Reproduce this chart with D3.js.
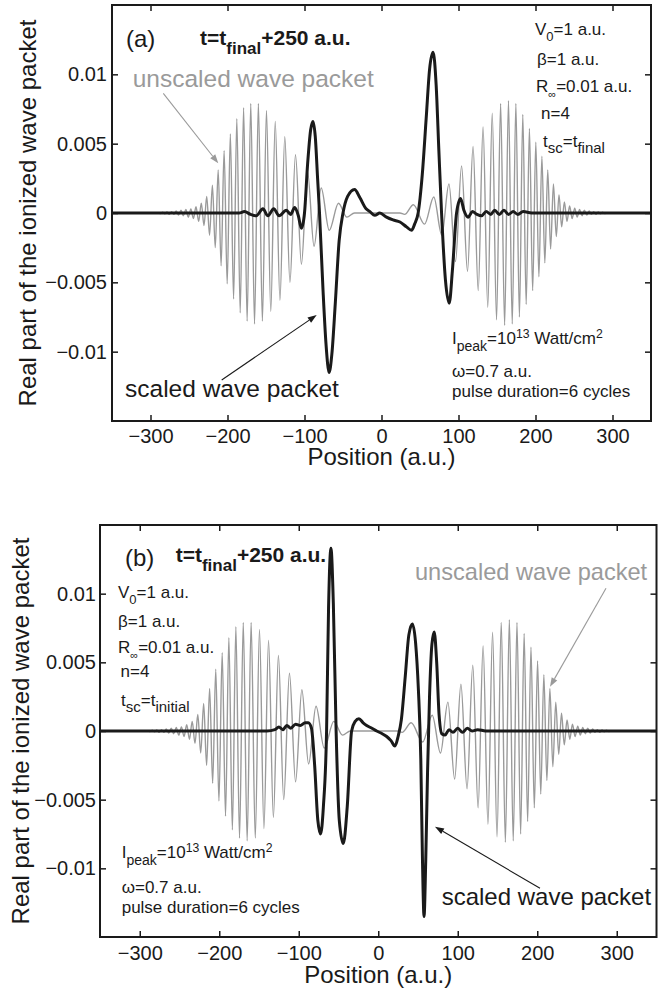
<!DOCTYPE html>
<html><head><meta charset="utf-8">
<script src="https://cdn.jsdelivr.net/npm/d3@7"></script>
<style>
html,body{margin:0;padding:0;background:#fff;}
svg{display:block;font-family:"Liberation Sans",Arial,Helvetica,sans-serif;}
</style></head>
<body>
<svg id="chart" width="668" height="988"></svg>
<script>
// ---------- data ----------
const xTicks = [-300, -200, -100, 0, 100, 200, 300];
const xTickLabels = ["\u2212300", "\u2212200", "\u2212100", "0", "100", "200", "300"];
const yTicks = [-0.01, -0.005, 0, 0.005, 0.01];
const yTickLabels = ["\u22120.01", "\u22120.005", "0", "0.005", "0.01"];
const xDomain = [-350, 350];
const yDomain = [-0.015, 0.015];

// unscaled wave packet (same in both panels): extrema
const unscaledPacket = [
 [-350,0],[-300,0],
 [-292.7,-0.00003],[-289.9,0.00003],[-287.1,-0.00004],[-284.3,0.00005],[-281.4,-0.00006],[-278.5,0.00008],
 [-275.6,-0.0001],[-272.6,0.0001],[-269.6,-0.0001],[-266.6,0.00015],[-263.5,-0.00015],[-260.4,0.0002],
 [-257.3,-0.0002],[-254.1,0.00025],[-250.9,-0.0003],[-247.6,0.0003],[-244.3,-0.0004],[-240.9,0.00045],
 [-237.5,-0.0006],[-234,0.0007],[-230.5,-0.0009],[-227,0.0012],[-223.3,-0.0016],[-219.6,0.002],
 [-215.9,-0.0025],[-212.1,0.0031],[-208.3,-0.0038],[-204.4,0.0045],[-200.4,-0.0051],[-196.3,0.0057],
 [-192.1,-0.0062],[-187.9,0.0068],[-183.5,-0.0072],[-179.1,0.0076],[-174.5,-0.0078],[-169.8,0.0079],
 [-164.9,-0.008],[-159.9,0.0079],[-154.7,-0.0078],[-149.4,0.0074],[-143.8,-0.0071],[-138,0.0066],
 [-131.9,-0.0063],[-125.6,0.0055],[-118.9,-0.005],[-111.7,0.0042],[-104,-0.0037],[-96.1,0.003],
 [-87.6,-0.0024],[-78.3,0.0018],[-67.9,-0.00125],[-55.9,0.0007],[-45,-0.0003],[-35,0],[0,0],[24,0],
 [30,-0.0001],[41.4,0.0006],[55.9,-0.0008],[67.9,0.00115],[78.3,-0.0016],[87.6,0.0021],[96.1,-0.0035],
 [104,0.0034],[111.7,-0.0042],[118.9,0.0048],[125.6,-0.0056],[131.9,0.0062],[138,-0.0068],[143.8,0.0072],
 [149.4,-0.0077],[154.7,0.0079],[159.9,-0.0081],[164.9,0.0081],[169.8,-0.008],[174.5,0.0079],
 [179.1,-0.0075],[183.5,0.0071],[187.9,-0.0066],[192.1,0.0061],[196.3,-0.0056],[200.4,0.0051],
 [204.4,-0.0046],[208.3,0.0041],[212.1,-0.0036],[215.9,0.0031],[219.6,-0.0026],[223.3,0.0021],
 [227,-0.0017],[230.5,0.0013],[234,-0.001],[237.5,0.0008],[240.9,-0.0006],[244.3,0.0005],
 [247.6,-0.0004],[250.9,0.00035],[254.1,-0.0003],[257.3,0.00025],[260.4,-0.0002],[263.5,0.0002],
 [266.6,-0.00015],[269.6,0.00015],[272.6,-0.0001],[275.6,0.0001],[278.5,-0.0001],[281.4,0.00008],
 [284.3,-0.00006],[287.1,0.00005],[289.9,-0.00004],[292.7,0.00003],[300,0],[350,0]
];

// scaled wave packet, panel (a): t_sc = t_final
const scaledPacketA = [
 [-350,0],[-200,0],[-185,0],[-178,0.0001],[-170,-0.0001],[-162.6,-0.0002],[-154,0.0003],[-147.5,-0.0002],
 [-140,0.0003],[-133,-0.0002],[-123.5,0.0002],[-118,-0.0001],[-112.7,0.0004],[-108,-0.0002],[-104,-0.0011],
 [-100,0],[-96,0.0035],[-92,0.006],[-89,0.0066],[-86,0.0055],[-83,0.0025],[-80.5,0],[-76,-0.0055],
 [-72,-0.0095],[-68,-0.0115],[-64.5,-0.0102],[-60,-0.0065],[-55,-0.002],[-50,0],[-44,0.0012],[-35,0.0017],
 [-28,0.0011],[-20,0.0003],[-15,0.0001],[-8.7,-0.00017],[-2.2,0],[6.5,-0.0003],[15,-0.0005],[24,-0.00065],
 [32.5,-0.001],[39,-0.00125],[43,-0.0008],[47.6,0],[53,0.0028],[58,0.0068],[62.5,0.0104],[67,0.0116],
 [71,0.0092],[74.5,0.0045],[78,0],[83,-0.0048],[88,-0.0065],[92,-0.0042],[97.5,0],[102.7,0.00104],
 [107,0.0002],[112.6,-0.0003],[118,0.0001],[124,-0.0001],[130,-0.0002],[136,0.0001],[142,-0.0001],
 [147,0.0002],[153,-0.0001],[159,0.0002],[165,-0.0001],[171,0.0001],[177,-0.0001],[184,0.0001],[195,0],[350,0]
];

// scaled wave packet, panel (b): t_sc = t_initial
const scaledPacketB = [
 [-350,0],[-140,0],[-130,0.0001],[-125,0.0003],[-120,0.0001],[-115,0.0004],[-110,0.0002],[-104,0.0005],
 [-98,0.0004],[-92,0.0006],[-88,0.0006],[-84,0.0002],[-80,-0.0025],[-76,-0.0065],[-72.5,-0.0075],
 [-69,-0.0055],[-65,0],[-62.5,0.009],[-59.5,0.0133],[-56.5,0.0093],[-53,0],[-49,-0.0065],[-44,-0.0082],
 [-39,-0.0055],[-33.5,0],[-29,0.0007],[-24.3,0.0009],[-19,0.0006],[-14.6,0.0004],[-8,0.0002],[-2,0],
 [5,-0.0002],[10.6,-0.0004],[16,-0.0007],[21,-0.0011],[25,-0.0004],[29,0.0008],[34,0.004],[38.5,0.007],
 [43,0.0078],[47,0.0064],[50.5,0.003],[53.5,-0.002],[55.5,-0.009],[57.6,-0.0135],[59.7,-0.0095],
 [62,-0.003],[64.5,0.0025],[67.5,0.0063],[70.4,0.0072],[73.5,0.005],[76.5,0.0012],[80,-0.0002],
 [84,-0.0003],[89,0.0001],[94,-0.0001],[100,0.0002],[106,-0.0001],[112,0.0002],[118,0],[125,0.0001],
 [135,0],[350,0]
];

// ---------- drawing ----------
const svg = d3.select("#chart");
svg.append("rect").attr("width",668).attr("height",988).attr("fill","#fff");
const GRAY = "#9a9a9a", BLACK = "#1a1a1a";

function rich(g, x, y, parts, size, opts) {
  opts = opts || {};
  const t = g.append("text").attr("x", x).attr("y", y)
    .attr("font-size", size).attr("fill", opts.fill || BLACK)
    .attr("font-weight", opts.weight || "normal");
  let shift = 0;
  parts.forEach(p => {
    let target = 0, fs = size;
    if (p.sub) { target = opts.subDy || size * 0.38; fs = opts.subSize || size * 0.78; }
    if (p.sup) { target = -(opts.supDy || size * 0.4); fs = size * 0.72; }
    t.append("tspan").attr("dy", target - shift).attr("font-size", fs).text(p.t);
    shift = target;
  });
  return t;
}

function arrow(g, x1, y1, x2, y2, color) {
  const ang = Math.atan2(y2 - y1, x2 - x1), L = 9, W = 3.2;
  const bx = x2 - L * Math.cos(ang), by = y2 - L * Math.sin(ang);
  g.append("line").attr("x1", x1).attr("y1", y1).attr("x2", bx).attr("y2", by)
    .attr("stroke", color).attr("stroke-width", 1.1);
  const px = -Math.sin(ang) * W, py = Math.cos(ang) * W;
  g.append("path").attr("d", `M${x2},${y2}L${bx+px},${by+py}L${bx-px},${by-py}Z`).attr("fill", color);
}

function panel(cfg) {
  const x = d3.scaleLinear().domain(xDomain).range([cfg.left, cfg.right]);
  const y = d3.scaleLinear().domain(yDomain).range([cfg.bottom, cfg.top]);
  const g = svg.append("g");
  const clipId = "clip" + cfg.id;
  g.append("clipPath").attr("id", clipId).append("rect")
    .attr("x", cfg.left).attr("y", cfg.top).attr("width", cfg.right - cfg.left).attr("height", cfg.bottom - cfg.top);

  const line = d3.line().x(d => x(d[0])).y(d => y(d[1])).curve(d3.curveMonotoneX);
  const plot = g.append("g").attr("clip-path", `url(#${clipId})`);
  plot.append("path").datum(unscaledPacket).attr("d", line)
    .attr("fill", "none").attr("stroke", GRAY).attr("stroke-width", 1.4);
  plot.append("path").datum(cfg.scaled).attr("d", line)
    .attr("fill", "none").attr("stroke", BLACK).attr("stroke-width", 3).attr("stroke-linejoin", "round");

  // axes (inward ticks, MATLAB style)
  const fmtX = d => xTickLabels[xTicks.indexOf(d)];
  const fmtY = d => yTickLabels[yTicks.indexOf(d)];
  const ax = g.append("g").attr("transform", `translate(0,${cfg.bottom})`)
    .call(d3.axisBottom(x).tickValues(xTicks).tickFormat(fmtX).tickSizeInner(-6).tickSizeOuter(0).tickPadding(cfg.xPad));
  const axT = g.append("g").attr("transform", `translate(0,${cfg.top})`)
    .call(d3.axisTop(x).tickValues(xTicks).tickFormat("").tickSizeInner(-6).tickSizeOuter(0));
  const ay = g.append("g").attr("transform", `translate(${cfg.left},0)`)
    .call(d3.axisLeft(y).tickValues(yTicks).tickFormat(fmtY).tickSizeInner(-6).tickSizeOuter(0).tickPadding(cfg.yPad));
  const ayR = g.append("g").attr("transform", `translate(${cfg.right},0)`)
    .call(d3.axisRight(y).tickValues(yTicks).tickFormat("").tickSizeInner(-6).tickSizeOuter(0));
  [ax, axT, ay, ayR].forEach(a => {
    a.select(".domain").remove();
    a.selectAll(".tick line").attr("stroke", BLACK).attr("stroke-width", 1.5);
    a.selectAll("text").attr("font-size", 20).attr("fill", BLACK)
      .attr("font-family", '"Liberation Sans",Arial,Helvetica,sans-serif');
  });

  g.append("rect").attr("x", cfg.left).attr("y", cfg.top)
    .attr("width", cfg.right - cfg.left).attr("height", cfg.bottom - cfg.top)
    .attr("fill", "none").attr("stroke", BLACK).attr("stroke-width", 2);

  // axis titles
  g.append("text").attr("x", x(0)).attr("y", cfg.xLabelY).attr("text-anchor", "middle")
    .attr("font-size", 24).attr("fill", BLACK).text("Position (a.u.)");
  g.append("text").attr("transform", `translate(${cfg.yLabelX},${(cfg.top + cfg.bottom) / 2}) rotate(-90)`)
    .attr("text-anchor", "middle").attr("font-size", 24).attr("fill", BLACK)
    .text("Real part of the ionized wave packet");
  return g;
}

// ----- panel (a) -----
const ga = panel({id:"a", left:112, right:651, top:5, bottom:421, scaled:scaledPacketA,
  xPad:8, yPad:5, xLabelY:465, yLabelX:35.5});
ga.append("text").attr("x",126).attr("y",47).attr("font-size",24).attr("fill",BLACK).text("(a)");
rich(ga, 200, 45, [{t:"t=t"},{t:"final",sub:true},{t:"+250 a.u."}], 21, {weight:"bold", subSize:17, subDy:9});
ga.append("text").attr("x",132.7).attr("y",87.3).attr("font-size",24.5).attr("fill",GRAY).text("unscaled wave packet");
arrow(ga, 163.3, 93.3, 218.3, 163.3, GRAY);
ga.append("text").attr("x",125).attr("y",396.7).attr("font-size",24.5).attr("fill",BLACK).text("scaled wave packet");
arrow(ga, 221.7, 380, 316.7, 315, BLACK);
rich(ga, 535, 35, [{t:"V"},{t:"0",sub:true},{t:"=1 a.u."}], 17, {subSize:13, subDy:6});
rich(ga, 537, 64.5, [{t:"\u03b2=1 a.u."}], 17);
rich(ga, 536, 91.5, [{t:"R"},{t:"\u221e",sub:true},{t:"=0.01 a.u."}], 17, {subSize:11, subDy:6});
rich(ga, 541, 118.5, [{t:"n=4"}], 17);
rich(ga, 543, 146.5, [{t:"t"},{t:"sc",sub:true},{t:"=t"},{t:"final",sub:true}], 17, {subSize:15, subDy:6});
rich(ga, 452, 344, [{t:"I"},{t:"peak",sub:true},{t:"=10"},{t:"13",sup:true},{t:" Watt/cm"},{t:"2",sup:true}], 17, {subSize:14, subDy:7, supDy:6});
rich(ga, 452, 376.5, [{t:"\u03c9=0.7 a.u."}], 17);
rich(ga, 452, 396.5, [{t:"pulse duration=6 cycles"}], 17);

// ----- panel (b) -----
const gb = panel({id:"b", left:100, right:656.5, top:525, bottom:937, scaled:scaledPacketB,
  xPad:8.3, yPad:4, xLabelY:983, yLabelX:29});
gb.append("text").attr("x",125).attr("y",566).attr("font-size",24).attr("fill",BLACK).text("(b)");
rich(gb, 175.7, 561.7, [{t:"t=t"},{t:"final",sub:true},{t:"+250 a.u."}], 21, {weight:"bold", subSize:17, subDy:9});
gb.append("text").attr("x",415).attr("y",580).attr("font-size",23.6).attr("fill",GRAY).text("unscaled wave packet");
arrow(gb, 606, 588.3, 550, 686.7, GRAY);
gb.append("text").attr("x",441.7).attr("y",905).attr("font-size",24).attr("fill",BLACK).text("scaled wave packet");
arrow(gb, 540, 888.3, 435, 826.7, BLACK);
rich(gb, 118, 598, [{t:"V"},{t:"0",sub:true},{t:"=1 a.u."}], 17, {subSize:13, subDy:6});
rich(gb, 118, 626.5, [{t:"\u03b2=1 a.u."}], 17);
rich(gb, 118, 653, [{t:"R"},{t:"\u221e",sub:true},{t:"=0.01 a.u."}], 17, {subSize:11, subDy:6});
rich(gb, 120.5, 677, [{t:"n=4"}], 17);
rich(gb, 121, 706, [{t:"t"},{t:"sc",sub:true},{t:"=t"},{t:"initial",sub:true}], 17, {subSize:15, subDy:6});
rich(gb, 121.7, 858.3, [{t:"I"},{t:"peak",sub:true},{t:"=10"},{t:"13",sup:true},{t:" Watt/cm"},{t:"2",sup:true}], 17, {subSize:14, subDy:7, supDy:6});
rich(gb, 121.7, 893.3, [{t:"\u03c9=0.7 a.u."}], 17);
rich(gb, 121.7, 913.3, [{t:"pulse duration=6 cycles"}], 17);
</script>
</body></html>
